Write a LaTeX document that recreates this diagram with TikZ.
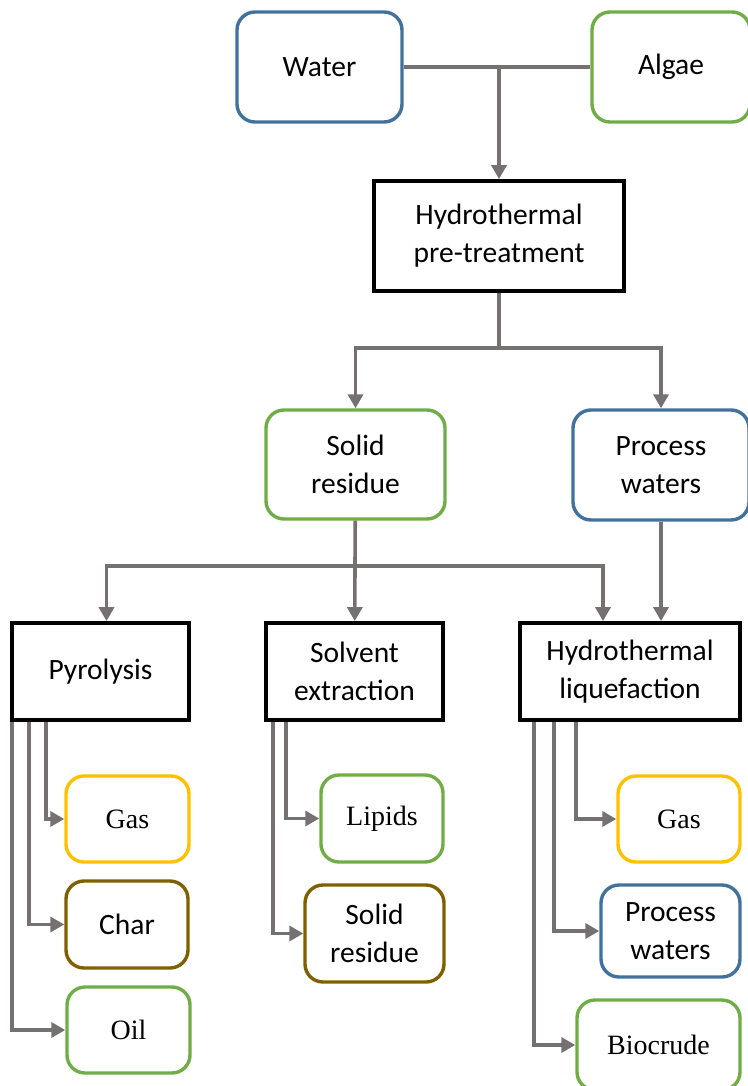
\documentclass[tikz,border=0pt]{standalone}
\usepackage{fontspec}
\setmainfont{Carlito}
\newfontfamily\timesfont{Liberation Serif}
\usetikzlibrary{arrows.meta}
\definecolor{waterblue}{HTML}{41719C}
\definecolor{algaegreen}{HTML}{70AD47}
\definecolor{gasyellow}{HTML}{FFC000}
\definecolor{charbrown}{HTML}{7F6000}
\definecolor{flowgray}{HTML}{767171}

\begin{document}
\begin{tikzpicture}[x=1pt,y=-1pt,
		main node/.style={rectangle,draw=black,line width=3.8pt,align=center,inner sep=0pt,
			font=\fontsize{29.5}{38}\selectfont},
		feed node/.style={rectangle,rounded corners=18pt,line width=3.4pt,align=center,inner sep=0pt,
			font=\fontsize{29.5}{38}\selectfont},
		flow/.style={draw=flowgray,line width=3.6pt,-{Triangle[length=14pt,width=15pt]}},
		joint/.style={draw=flowgray,line width=3.6pt}]
		\useasboundingbox (0,0) rectangle (747,1086);
		
		% inputs
		\node[feed node,draw=waterblue,minimum width=165pt,minimum height=110pt] (water) at (319.5,67) {Water};
		\node[feed node,draw=algaegreen,minimum width=158pt,minimum height=110pt] (algae) at (671,67) {Algae};
		\node[main node,minimum width=250pt,minimum height=110pt] (hpt) at (499,236) {Hydrothermal\\pre-treatment};
		
		% first split
		\node[feed node,draw=algaegreen,minimum width=179pt,minimum height=109pt] (solid) at (355.5,464.5) {Solid\\residue};
		\node[feed node,draw=waterblue,minimum width=176pt,minimum height=110pt] (procw) at (661,465) {Process\\waters};
		
		% routes
		\node[main node,minimum width=177pt,minimum height=97pt] (pyro) at (100.5,671.5) {Pyrolysis};
		\node[main node,minimum width=177pt,minimum height=97pt] (solv) at (354.5,671.5) {Solvent\\extraction};
		\node[main node,minimum width=220pt,minimum height=97pt] (htl) at (630,671.5) {Hydrothermal\\liquefaction};
		
		% products
		\node[feed node,draw=gasyellow,minimum width=123pt,minimum height=86pt,font=\fontsize{28}{38}\timesfont] (pgas) at (127.5,819) {Gas};
		\node[feed node,draw=charbrown,minimum width=122pt,minimum height=87pt] (pchar) at (127,924.5) {Char};
		\node[feed node,draw=algaegreen,minimum width=123pt,minimum height=86pt,font=\fontsize{28}{38}\timesfont] (poil) at (128.5,1030) {Oil};
		\node[feed node,draw=algaegreen,minimum width=122pt,minimum height=87pt,font=\fontsize{28}{38}\timesfont] (lipids) at (382,818.5) {Lipids};
		\node[feed node,draw=charbrown,minimum width=139pt,minimum height=97pt] (sres) at (374.5,933.5) {Solid\\residue};
		\node[feed node,draw=gasyellow,minimum width=122pt,minimum height=86pt,font=\fontsize{28}{38}\timesfont] (hgas) at (679,819) {Gas};
		\node[feed node,draw=waterblue,minimum width=139pt,minimum height=92pt] (hpw) at (670.5,931) {Process\\waters};
		\node[feed node,draw=algaegreen,minimum width=163pt,minimum height=90pt,font=\fontsize{28}{38}\timesfont] (bio) at (658.5,1045) {Biocrude};
		
		\coordinate (split1) at (499,348);
		\coordinate (split2) at (355,566);
		
		\path[joint] (water) -- (algae);
		\path[flow] (hpt |- water.east) -- (hpt);
		\path[joint] (hpt) -- (split1);
		\path[flow] (split1) -| (solid);
		\path[flow] (split1) -| (procw);
		\path[joint] (solid) -- (split2);
		\path[flow] (split2) -| ([xshift=6pt]pyro.north);
		\path[flow] (split2) -- (solv);
		\path[flow] (split2) -| ([xshift=-27pt]htl.north);
		\path[flow] (procw) -- (procw.south |- htl.north);
		
		\path[flow] ([xshift=36pt]pyro.south west) |- (pgas);
		\path[flow] ([xshift=19pt]pyro.south west) |- (pchar);
		\path[flow] ([xshift=2pt]pyro.south west) |- (poil);
		\path[flow] ([xshift=22pt]solv.south west) |- (lipids);
		\path[flow] ([xshift=9pt]solv.south west) |- (sres);
		\path[flow] ([xshift=58pt]htl.south west) |- (hgas);
		\path[flow] ([xshift=36pt]htl.south west) |- (hpw);
		\path[flow] ([xshift=16pt]htl.south west) |- (bio);
\end{tikzpicture}
\end{document}
